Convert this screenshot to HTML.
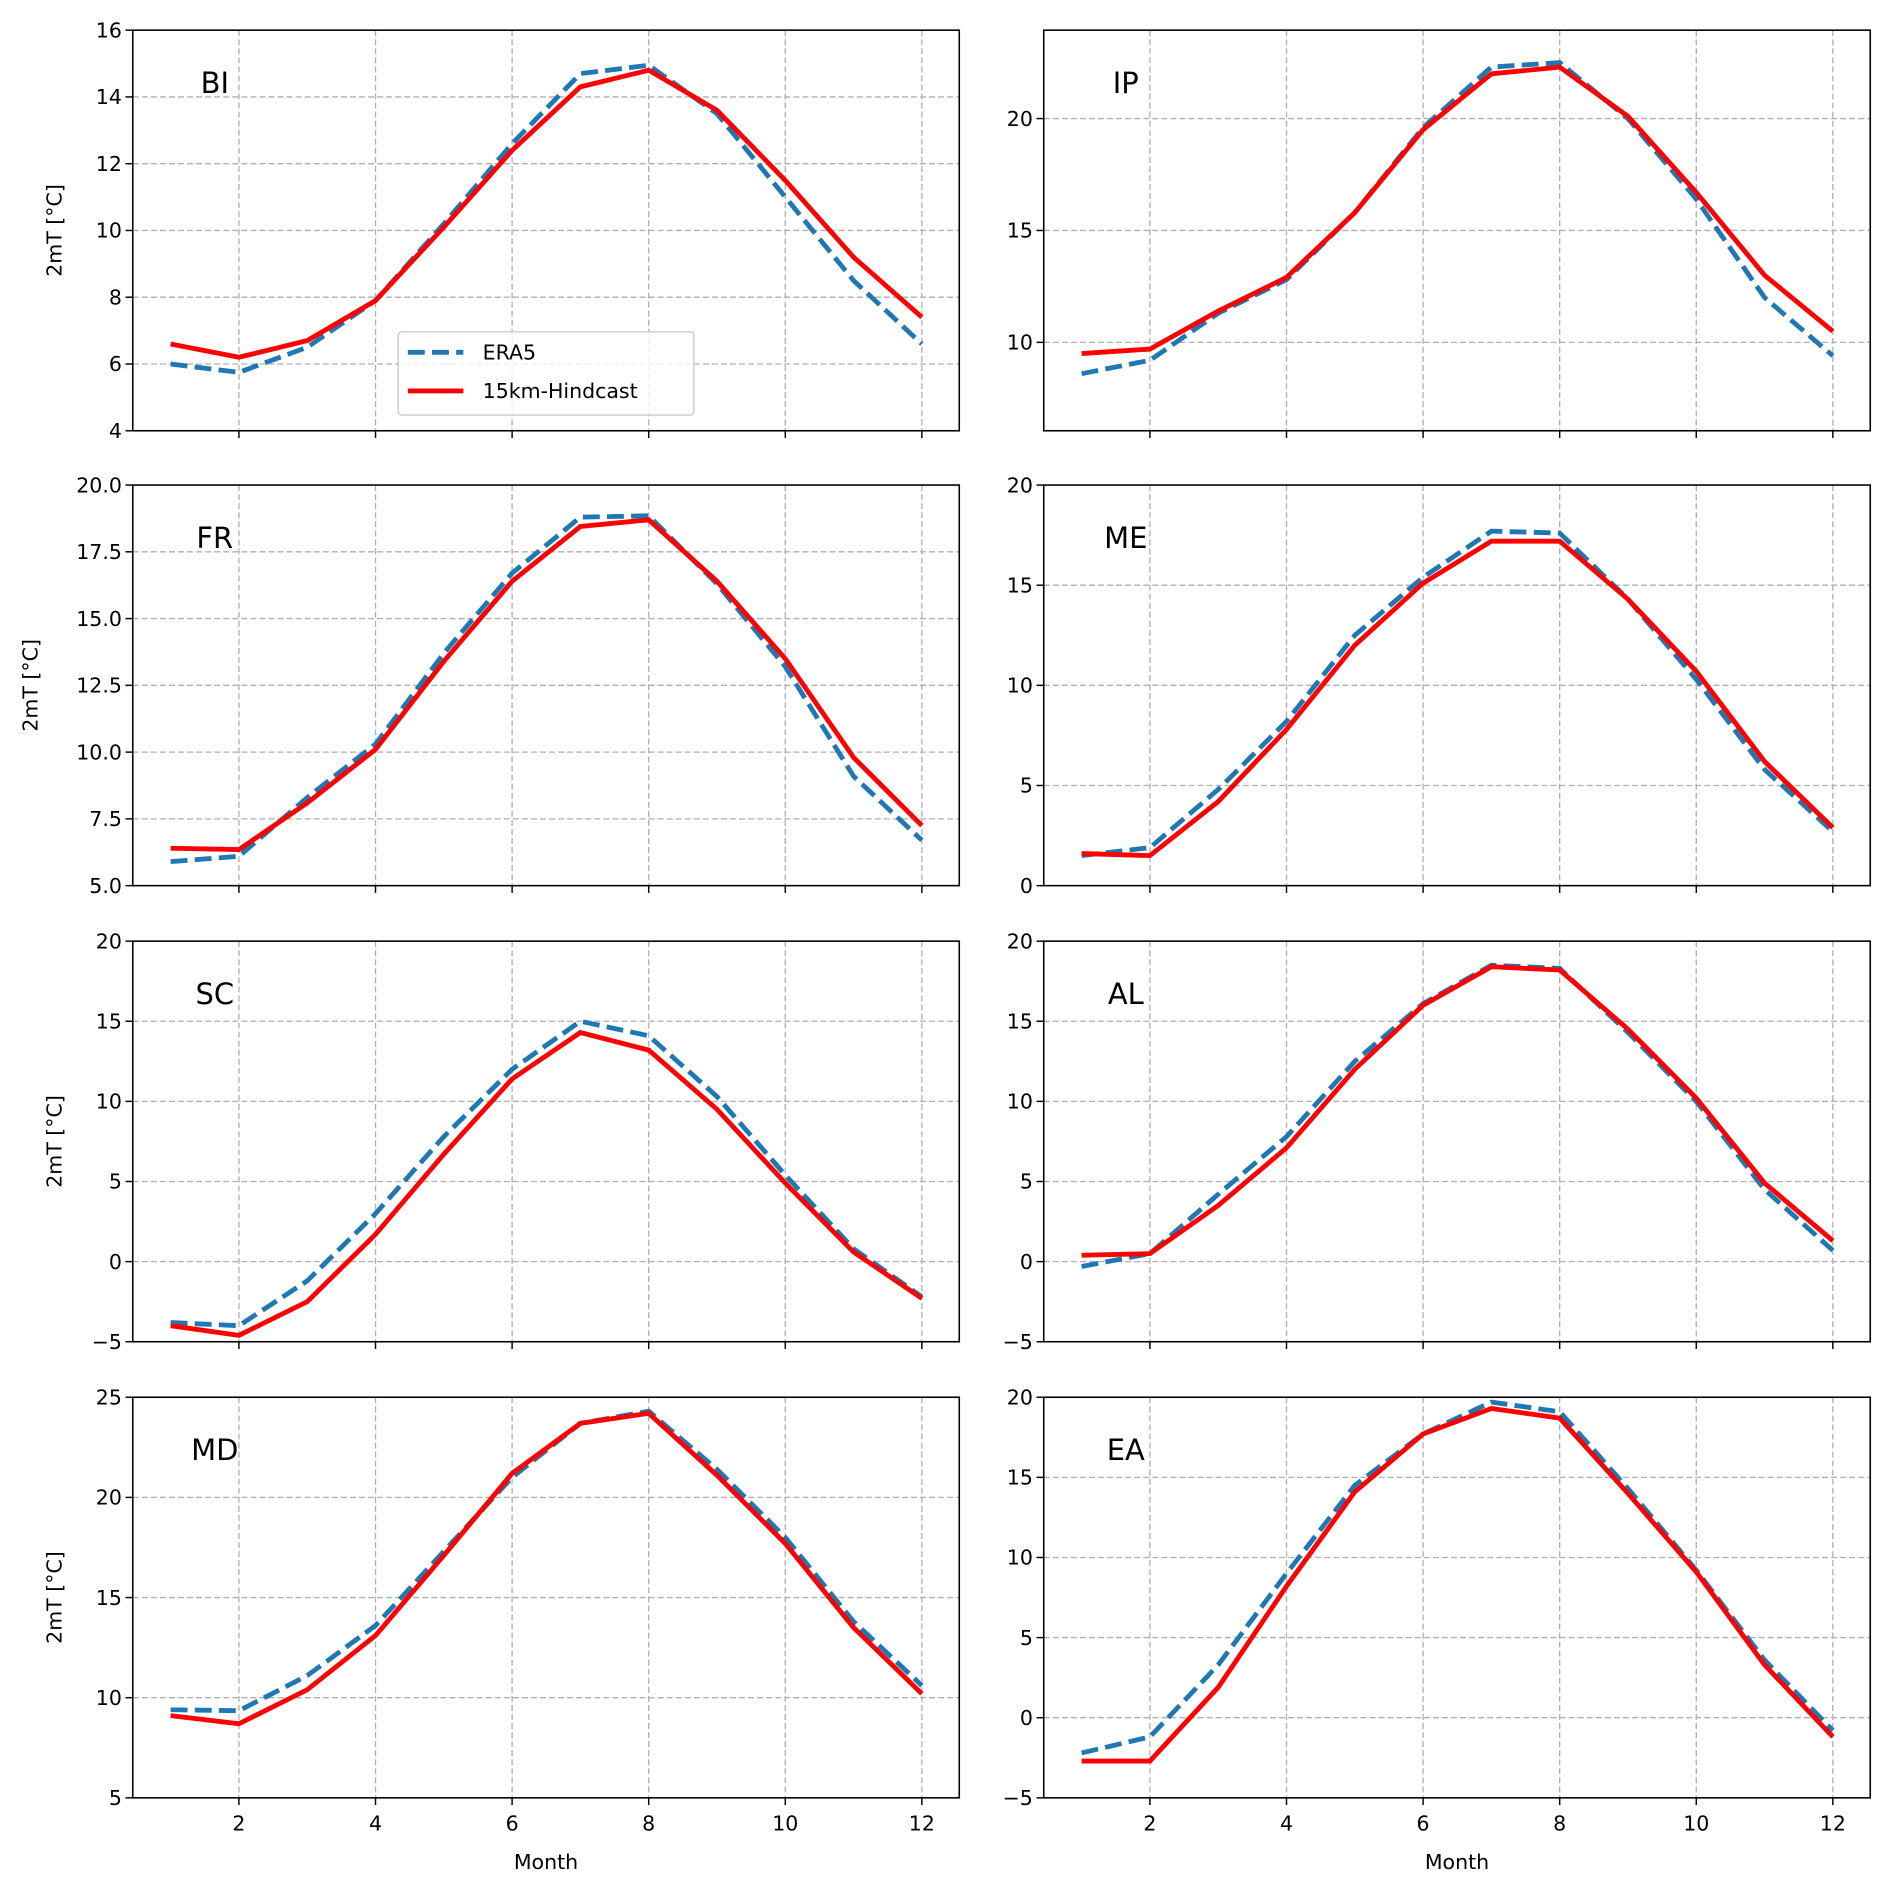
<!DOCTYPE html>
<html><head><meta charset="utf-8"><style>html,body{margin:0;padding:0;background:#fff}svg{display:block}</style></head>
<body>
<svg id="s" xmlns="http://www.w3.org/2000/svg" width="1892" height="1894" viewBox="0 0 1568 1569.7" font-family="'DejaVu Sans','Liberation Sans',sans-serif"></svg>
<script>
const P=[
{n:'BI',col:0,row:0,lo:4,hi:16,ticks:[4,6,8,10,12,14,16],fmt:0,
 e:[6.0,5.75,6.5,7.9,10.2,12.6,14.7,14.95,13.5,11.0,8.5,6.6],
 h:[6.6,6.2,6.7,7.9,10.1,12.4,14.3,14.8,13.6,11.5,9.2,7.4]},
{n:'IP',col:1,row:0,lo:6.05,hi:23.95,ticks:[10,15,20],fmt:0,
 e:[8.6,9.2,11.3,12.8,15.8,19.6,22.3,22.5,20.0,16.4,12.0,9.4],
 h:[9.5,9.7,11.4,12.9,15.8,19.5,22.0,22.3,20.1,16.7,13.0,10.5]},
{n:'FR',col:0,row:1,lo:5,hi:20,ticks:[5,7.5,10,12.5,15,17.5,20],fmt:1,
 e:[5.9,6.1,8.3,10.3,13.7,16.7,18.8,18.85,16.3,13.2,9.1,6.7],
 h:[6.4,6.35,8.1,10.1,13.4,16.4,18.45,18.7,16.4,13.5,9.8,7.25]},
{n:'ME',col:1,row:1,lo:0,hi:20,ticks:[0,5,10,15,20],fmt:0,
 e:[1.5,1.9,4.8,8.2,12.5,15.4,17.7,17.6,14.3,10.3,5.8,2.7],
 h:[1.6,1.5,4.2,7.8,12.0,15.1,17.2,17.2,14.3,10.7,6.2,2.9]},
{n:'SC',col:0,row:2,lo:-5,hi:20,ticks:[-5,0,5,10,15,20],fmt:0,
 e:[-3.8,-4.0,-1.2,3.0,7.8,12.0,15.0,14.1,10.3,5.4,0.8,-2.2],
 h:[-4.0,-4.6,-2.5,1.7,6.7,11.4,14.3,13.2,9.5,4.9,0.6,-2.3]},
{n:'AL',col:1,row:2,lo:-5,hi:20,ticks:[-5,0,5,10,15,20],fmt:0,
 e:[-0.3,0.5,4.2,7.8,12.5,16.1,18.5,18.3,14.3,10.0,4.5,0.7],
 h:[0.4,0.5,3.5,7.1,12.0,16.0,18.4,18.2,14.5,10.2,4.9,1.3]},
{n:'MD',col:0,row:3,lo:5,hi:25,ticks:[5,10,15,20,25],fmt:0,
 e:[9.4,9.35,11.1,13.6,17.3,21.0,23.7,24.3,21.4,18.0,13.8,10.6],
 h:[9.1,8.7,10.4,13.1,17.1,21.2,23.7,24.2,21.1,17.7,13.5,10.2]},
{n:'EA',col:1,row:3,lo:-5,hi:20,ticks:[-5,0,5,10,15,20],fmt:0,
 e:[-2.2,-1.2,3.3,9.0,14.5,17.7,19.7,19.1,14.3,9.2,3.6,-0.8],
 h:[-2.7,-2.7,1.9,8.2,14.1,17.7,19.3,18.7,14.0,9.1,3.3,-1.2]}
];
const X0=[110,865],W=685,Y0=[25,402,780,1158],H=332;
let o='';
for(const p of P){
 const x0=X0[p.col],y0=Y0[p.row];
 const m1=x0+31.4;
 const fx=m=>m1+(m-1)*56.6;
 const fy=v=>y0+H-(v-p.lo)/(p.hi-p.lo)*H;
 for(let m=2;m<=12;m+=2){const x=fx(m);o+=`<line x1="${x}" y1="${y0}" x2="${x}" y2="${y0+H}" stroke="#b0b0b0" stroke-width="1.1" stroke-dasharray="5,2.5"/>`;
  o+=`<line x1="${x}" y1="${y0+H}" x2="${x}" y2="${y0+H+6}" stroke="#000" stroke-width="1.2"/>`;
  if(p.row==3)o+=`<text x="${x}" y="${y0+H+27}" font-size="17" text-anchor="middle">${m}</text>`;}
 for(const t of p.ticks){const y=fy(t);
  if(Math.abs(y-y0)>1&&Math.abs(y-y0-H)>1)o+=`<line x1="${x0}" y1="${y}" x2="${x0+W}" y2="${y}" stroke="#b0b0b0" stroke-width="1.1" stroke-dasharray="5,2.5"/>`;
  o+=`<line x1="${x0-6}" y1="${y}" x2="${x0}" y2="${y}" stroke="#000" stroke-width="1.2"/>`;
  const s=p.fmt?t.toFixed(1):String(t).replace('-','\u2212');
  o+=`<text x="${x0-9}" y="${y+6}" font-size="17" text-anchor="end">${s}</text>`;}
 const pts=a=>a.map((v,i)=>fx(i+1).toFixed(1)+','+fy(v).toFixed(1)).join(' ');
 o+=`<polyline points="${pts(p.e)}" fill="none" stroke="#1f77b4" stroke-width="4" stroke-dasharray="14,6"/>`;
 o+=`<polyline points="${pts(p.h)}" fill="none" stroke="#ff0000" stroke-width="4"/>`;
 o+=`<rect x="${x0}" y="${y0}" width="${W}" height="${H}" fill="none" stroke="#000" stroke-width="1.3"/>`;
 o+=`<text x="${x0+68}" y="${y0+52}" font-size="24" text-anchor="middle">${p.n}</text>`;
 if(p.col==0)o+=`<text transform="translate(${p.row==1?31:51},${y0+H/2}) rotate(-90)" font-size="17" text-anchor="middle">2mT [°C]</text>`;
 if(p.row==3)o+=`<text x="${x0+W/2}" y="${y0+H+59}" font-size="17" text-anchor="middle">Month</text>`;
}
o+=`<rect x="330" y="275" width="245" height="69" rx="3" fill="#fff" fill-opacity="0.8" stroke="#ccc" stroke-width="1.2"/>`;
o+=`<line x1="338" y1="292" x2="384" y2="292" stroke="#1f77b4" stroke-width="4" stroke-dasharray="14,6"/>`;
o+=`<text x="400" y="298" font-size="17">ERA5</text>`;
o+=`<line x1="338" y1="324" x2="384" y2="324" stroke="#ff0000" stroke-width="4"/>`;
o+=`<text x="400" y="330" font-size="17">15km-Hindcast</text>`;
document.getElementById('s').innerHTML=o;
</script>
</body></html>
